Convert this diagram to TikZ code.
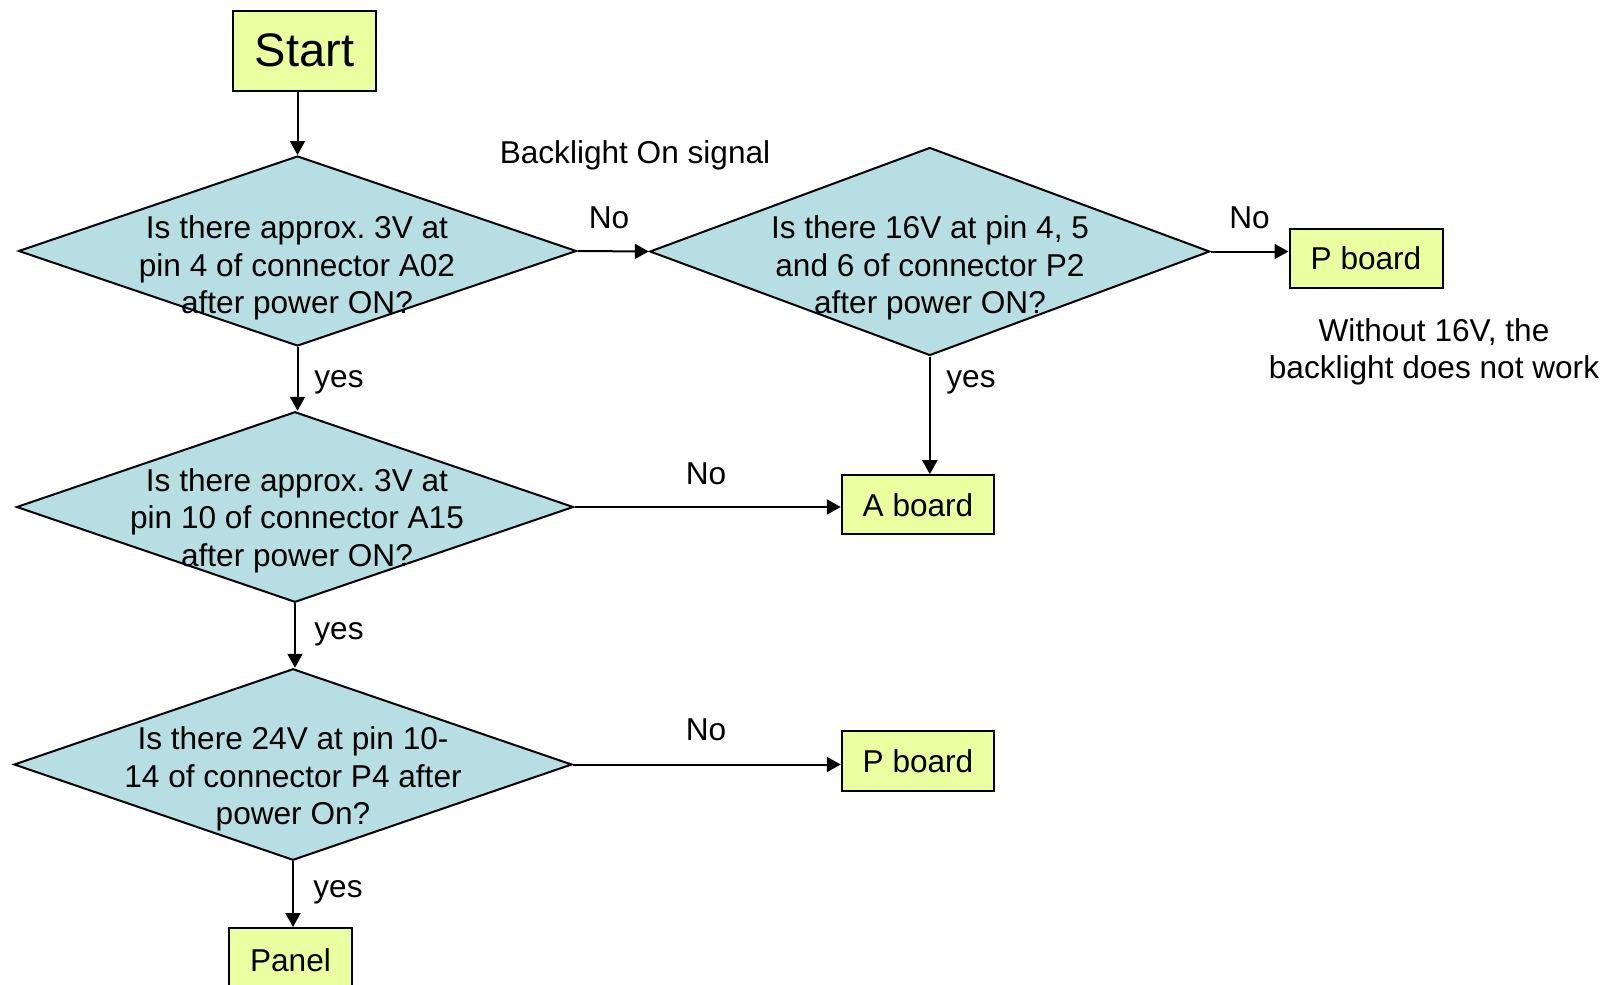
\documentclass[tikz,border=0pt]{standalone}
\usepackage{fontspec}
\setmainfont{Liberation Sans}
\usetikzlibrary{shapes.geometric,arrows.meta}
\definecolor{boxyellow}{RGB}{234,255,160}
\definecolor{diablue}{RGB}{183,223,227}
\frenchspacing
\begin{document}
\begin{tikzpicture}[x=1pt,y=-1pt,
  txt/.style={font=\fontsize{31.6}{37.5}\selectfont},
  box/.style={txt, draw=black, line width=2pt, fill=boxyellow, inner sep=0pt},
  dia/.style={diamond, draw=black, line width=2pt, fill=diablue, inner sep=0pt},
  dtext/.style={txt, align=center, inner sep=0pt},
  lbl/.style={txt, anchor=base, inner sep=0pt},
  arr/.style={line width=2pt, -{Triangle[length=14pt,width=15pt]}}]
\path[use as bounding box] (0,0) rectangle (1606,985);
\clip (0,0) rectangle (1606,985);

% boxes
\node[box, minimum width=143pt, minimum height=80pt, font=\fontsize{47}{50}\selectfont] (start) at (304.5,50.5) {Start};
\node[box, minimum width=153pt, minimum height=59pt] (pb1) at (1366,258) {P board};
\node[box, minimum width=152.5pt, minimum height=59pt] (aboard) at (918,504.7) {A board};
\node[box, minimum width=152.5pt, minimum height=60pt] (pb2) at (918,761) {P board};
\node[box, minimum width=123pt, minimum height=64pt] (panel) at (290.5,960) {Panel};

% diamonds
\node[dia, minimum width=558pt, minimum height=190pt] (d1) at (297.5,251) {};
\node[dia, minimum width=560pt, minimum height=208pt] (d2) at (929.8,251.5) {};
\node[dia, minimum width=557pt, minimum height=190.5pt] (d3) at (295,507) {};
\node[dia, minimum width=558pt, minimum height=191.5pt] (d4) at (293,764.5) {};

% diamond texts
\node[dtext] (t1) at (297,268) {Is there approx. 3V at\\pin 4 of connector A02\\after power ON?};
\node[dtext] (t2) at (930,268) {Is there 16V at pin 4, 5\\and 6 of connector P2\\after power ON?};
\node[dtext] (t3) at (297,520.5) {Is there approx. 3V at\\pin 10 of connector A15\\after power ON?};
\node[dtext] (t4) at (293,779) {Is there 24V at pin 10-\\14 of connector P4 after\\power On?};

% connectors
\draw[arr] (start.south -| d1.north) -- (d1.north);
\draw[arr] (d1.east) -- (d2.west);
\draw[arr] (d2.east) -- (d2.east -| pb1.west);
\draw[arr] (d1.south) -- (d1.south |- d3.north);
\draw[arr] (d2.south) -- (d2.south |- aboard.north);
\draw[arr] (d3.east) -- (d3.east -| aboard.west);
\draw[arr] (d3.south) -- (d3.south |- d4.north);
\draw[arr] (d4.east) -- (d4.east -| pb2.west);
\draw[arr] (d4.south) -- (d4.south |- panel.north);

% labels
\node[lbl] (lsig) at (635,163) {Backlight On signal};
\node[lbl] (lno1) at (609,228) {No};
\node[lbl] (lno2) at (1249.5,228) {No};
\node[lbl] (lyes1) at (339,387) {yes};
\node[lbl] (lyes2) at (971,387) {yes};
\node[lbl] (lno3) at (706,484) {No};
\node[lbl] (lyes3) at (339,639) {yes};
\node[lbl] (lno4) at (706,740) {No};
\node[lbl] (lyes4) at (338,897) {yes};
\node[dtext] (note) at (1434,352) {Without 16V, the\\backlight does not work};
\end{tikzpicture}
\end{document}
